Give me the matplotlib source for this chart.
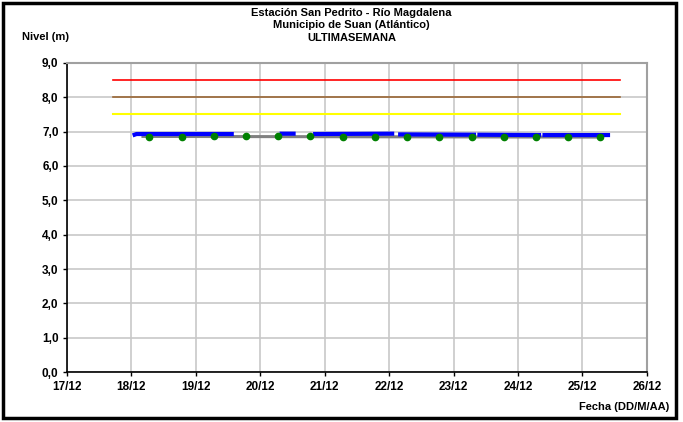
import numpy as np
import matplotlib
matplotlib.use("Agg")
import matplotlib.pyplot as plt
from matplotlib.patches import Rectangle

plt.rcParams['font.family'] = ['Liberation Sans', 'DejaVu Sans']
plt.rcParams['font.weight'] = 'bold'

# x in days since 17/12 00:00
tick_labels = ["17/12", "18/12", "19/12", "20/12", "21/12",
               "22/12", "23/12", "24/12", "25/12", "26/12"]

# umbrales (rojo, marron, amarillo)
umbral_x = [0.72, 8.58]
umbral_rojo = 8.5
umbral_marron = 8.0
umbral_amarillo = 7.5

# nivel registrado (azul), NaN = sin dato
nivel_x = [1.02, 1.08, 2.59, 2.60,
           3.30, 3.55, 3.56,
           3.82, 5.08, 5.09,
           5.14, 6.35, 6.36, 6.37, 7.36, 7.37, 7.38, 8.43]
nivel_y = [6.89, 6.93, 6.93, np.nan,
           6.94, 6.94, np.nan,
           6.93, 6.94, np.nan,
           6.92, 6.91, np.nan, 6.91, 6.90, np.nan, 6.90, 6.90]

# nivel de referencia (gris)
ref_x = [1.18, 8.25]
ref_y = [6.86, 6.84]

# lecturas manuales (verde)
lect_x = [1.28, 1.78, 2.28, 2.78, 3.28, 3.78, 4.28, 4.78,
          5.28, 5.78, 6.28, 6.78, 7.28, 7.78, 8.28]
lect_y = [6.85, 6.85, 6.86, 6.86, 6.86, 6.86, 6.85, 6.85,
          6.84, 6.84, 6.84, 6.83, 6.83, 6.83, 6.83]

fig = plt.figure(figsize=(6.83, 4.22), dpi=100)
ax = fig.add_axes([0.098, 0.118, 0.849, 0.733])

ax.plot(umbral_x, [umbral_rojo] * 2, color='#ff0000', lw=1.2)
ax.plot(umbral_x, [umbral_marron] * 2, color='#996633', lw=1.2)
ax.plot(umbral_x, [umbral_amarillo] * 2, color='#ffff00', lw=1.5)
ax.plot(ref_x, ref_y, color='#808080', lw=2.2)
ax.plot(nivel_x, nivel_y, color='#0000ff', lw=3.0, solid_capstyle='butt')
ax.plot(lect_x, lect_y, 'o', color='#008000', ms=4.5, mec='#008000')

ax.set_xlim(0, 9)
ax.set_ylim(0, 9)
ax.set_xticks(range(len(tick_labels)))
ax.set_xticklabels(tick_labels)
ax.set_yticks(np.arange(0, 9.5, 1))
ax.set_yticklabels([f"{v:.1f}".replace('.', ',') for v in np.arange(0, 9.5, 1)])
ax.tick_params(labelsize=8.5, length=3, width=1, direction='out', pad=3)
ax.grid(True, color='#c8c8c8', lw=1.2)
ax.set_axisbelow(True)
ax.spines['left'].set_color('black')
ax.spines['bottom'].set_color('black')
ax.spines['left'].set_linewidth(1.2)
ax.spines['bottom'].set_linewidth(1.2)
ax.spines['top'].set_color('#a0a0a0')
ax.spines['right'].set_color('#a0a0a0')
ax.spines['top'].set_linewidth(1.5)
ax.spines['right'].set_linewidth(1.5)

fig.text(0.515, 0.982, "Estación San Pedrito - Río Magdalena\nMunicipio de Suan (Atlántico)\nULTIMASEMANA",
         ha='center', va='top', fontsize=8, fontweight='bold', linespacing=1.35)
fig.text(0.032, 0.912, "Nivel (m)", ha='left', va='center', fontsize=8, fontweight='bold')
fig.text(0.98, 0.035, "Fecha (DD/M/AA)", ha='right', va='center', fontsize=8, fontweight='bold')

fig.patches.append(Rectangle((0.005, 0.01), 0.985, 0.983, transform=fig.transFigure,
                             fill=False, edgecolor='black', lw=2.5))

fig.savefig("out.png", dpi=100)
